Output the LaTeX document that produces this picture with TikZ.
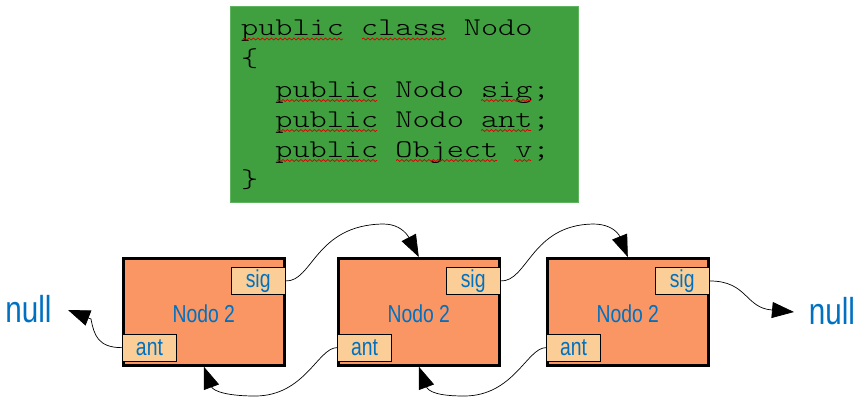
\documentclass[tikz,border=0pt]{standalone}
\usepackage{fontspec}
\newfontfamily\narrowsans[FakeStretch=0.79]{Liberation Sans}
\newfontfamily\codefont[FakeStretch=1.28]{lmmonolt10-regular.otf}
\usetikzlibrary{arrows.meta,decorations.pathmorphing}

\definecolor{codegreen}{RGB}{64,160,64}
\definecolor{codeedge}{RGB}{96,180,96}
\definecolor{nodeorange}{RGB}{250,150,100}
\definecolor{fieldpeach}{RGB}{250,206,150}
\definecolor{labelblue}{RGB}{0,112,192}

\tikzset{
  nodebox/.style={draw=black, line width=2.6pt, fill=nodeorange},
  fieldbox/.style={draw=black, line width=0.9pt, fill=fieldpeach, inner sep=0pt},
  fieldtext/.style={text=labelblue, font=\narrowsans\fontsize{24.5}{27}\selectfont},
  nulltext/.style={text=labelblue, font=\narrowsans\fontsize{37.5}{40}\selectfont, inner sep=0pt, anchor=base},
  codeline/.style={anchor=base west, inner sep=0pt, font=\codefont\fontsize{25.5}{30}\selectfont},
  link/.style={line width=0.7pt, -{Triangle[length=22pt,width=16pt]}},
  spell/.style={draw=red!85!black, line width=0.7pt, decorate,
    decoration={snake, segment length=4.5pt, amplitude=1pt}}
}

\begin{document}
\begin{tikzpicture}[x=1pt, y=-1pt]
  \useasboundingbox (0,0) rectangle (861,405);

  % class declaration
  \fill[codegreen] (230,6) rectangle (579,203);
  \draw[codeedge, line width=0.8pt] (230.5,6.5) rectangle (578.5,202.5);
  \node[codeline] (c1) at (241,35)  {public class Nodo};
  \node[codeline] (c2) at (241,66)  {\{};
  \node[codeline] (c3) at (241,97)  {\ \ public Nodo sig;};
  \node[codeline] (c4) at (241,127) {\ \ public Nodo ant;};
  \node[codeline] (c5) at (241,157) {\ \ public Object v;};
  \node[codeline] (c6) at (241,187) {\}};

  % spell-check marks (one character cell = 17.1)
  \draw[spell] (243,39) -- (343,39);
  \draw[spell] (362,39) -- (446,39);
  \foreach \yy in {100.5,130.5,160.5}{\draw[spell] (277,\yy) -- (377,\yy);}
  \draw[spell] (481,100.5) -- (531,100.5);
  \draw[spell] (481,130.5) -- (531,130.5);
  \draw[spell] (396,160.5) -- (497,160.5);
  \draw[spell] (514,160.5) -- (531,160.5);

  % list nodes
  \foreach \n/\xl in {1/122, 2/337, 3/546}{
    \node[nodebox, minimum width=161pt, minimum height=107pt, inner sep=0pt,
          anchor=north west] (n\n) at (\xl,257) {};
    \node[fieldbox, minimum width=54pt, minimum height=27pt, anchor=north east,
          fieldtext] (sig\n) at ([yshift=-10pt]n\n.north east) {sig};
    \node[fieldbox, minimum width=54pt, minimum height=27pt, anchor=south west,
          fieldtext] (ant\n) at ([yshift=5pt]n\n.south west) {ant};
    \node[fieldtext, anchor=base, inner sep=0pt] (lbl\n) at ([yshift=-10.5pt]n\n.center) {Nodo 2};
  }

  \node[nulltext] (nullL) at (28.5,322) {null};
  \node[nulltext] (nullR) at (832,324) {null};

  % sig links
  \coordinate (b1) at (408,236);
  \coordinate (b2) at (619,235);
  \coordinate (b3) at (772,310);
  \coordinate (tipR) at (794,312);
  \draw[link] (sig1.east) .. controls +(27,1) and +(-68,1) .. (383,224)
    .. controls +(12,0) and +(-5,-7) .. (b1) -- (n2.north);
  \draw[link] (sig2.east) .. controls +(27,1) and +(-62,1) .. (593,224)
    .. controls +(12,0) and +(-5,-7) .. (b2) -- (n3.north);
  \draw[link] (sig3.east) .. controls +(38,0) and +(-27,-2) .. (b3) -- (tipR);

  % ant links
  \coordinate (a1) at (91,319);
  \coordinate (tipL) at (68,310);
  \coordinate (a2) at (211,386);
  \coordinate (a3) at (426,386);
  \draw[link] (ant1.west) .. controls +(-24,0) and +(3,16) .. (a1) -- (tipL);
  \draw[link] (ant2.west) .. controls +(-19,0) and +(50,0) .. (255,396)
    .. controls +(-25,0) and +(2,6) .. (a2) -- (n1.south);
  \draw[link] (ant3.west) .. controls +(-19,0) and +(50,0) .. (464,396)
    .. controls +(-25,0) and +(2,6) .. (a3) -- (n2.south);
\end{tikzpicture}
\end{document}
